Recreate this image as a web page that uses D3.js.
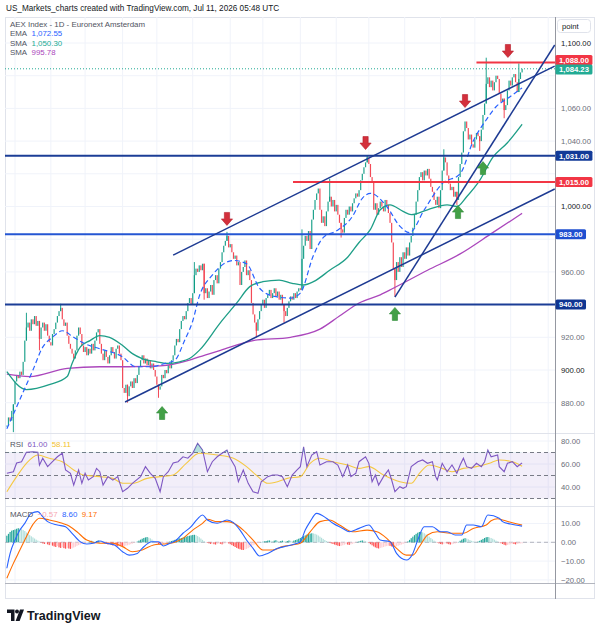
<!DOCTYPE html>
<html>
<head>
<meta charset="utf-8">
<script src="https://d3js.org/d3.v7.min.js"></script>
<style>
  body { margin: 0; background: #fff; }
  svg text { font-family: "Liberation Sans", Arial, sans-serif; }
</style>
</head>
<body>
<svg id="chart" width="600" height="633"></svg>
<script>
// AEX Index daily closes, one per trading day from 24 Apr 2025 to 10 Jul 2026
var closes = [
  866, 871, 869, 875, 879, 893, 897, 895, 899, 897,
  905, 918, 926, 929, 924, 931, 928, 933, 927, 930,
  919, 926, 929, 924, 928, 921, 917, 915, 922, 925,
  929, 933, 936, 938, 931, 927, 929, 921, 916, 913,
  910, 907, 912, 921, 926, 922, 915, 911, 914, 909,
  913, 910, 916, 912, 918, 923, 925, 916, 910, 906,
  912, 908, 904, 909, 914, 911, 907, 913, 915, 910,
  906, 889, 886, 891, 884, 890, 893, 889, 895, 892,
  897, 902, 906, 909, 904, 907, 903, 906, 901, 904,
  900, 896, 891, 888, 890, 897, 895, 900, 898, 903,
  901, 906, 909, 915, 919, 917, 925, 930, 933, 931,
  936, 941, 944, 940, 947, 958, 962, 960, 964, 961,
  965, 947, 950, 944, 948, 952, 946, 955, 958, 953,
  962, 966, 972, 976, 979, 982, 975, 977, 972, 968,
  970, 964, 966, 952, 960, 963, 967, 958, 961, 955,
  941, 934, 929, 924, 931, 936, 940, 943, 938, 944,
  946, 949, 944, 947, 950, 945, 948, 943, 946, 940,
  936, 933, 938, 942, 945, 943, 947, 944, 948, 950,
  949, 968, 976, 982, 979, 985, 974, 992, 998, 1004,
  1008, 1011, 998, 990, 994, 988, 997, 1003, 1006, 1000,
  1004, 997, 1001, 995, 990, 986, 984, 993, 998, 995,
  1000, 997, 1002, 1005, 1008, 1006, 1010, 1016, 1020, 1024,
  1027, 1030, 1026, 1018, 1015, 998, 1002, 995, 999, 1003,
  1000, 997, 1004, 1001, 996, 990, 978, 962, 955, 966,
  960, 969, 963, 972, 968, 975, 970, 978, 982, 987,
  995, 1003, 1010, 1018, 1021, 1016, 1022, 1019, 1023, 1017,
  1012, 1009, 1004, 1001, 1006, 999, 1010, 1022, 1030, 1027,
  1019, 1014, 1010, 1012, 1006, 1009, 1004, 1018, 1026, 1033,
  1046, 1052, 1048, 1041, 1044, 1038, 1036, 1041, 1045, 1043,
  1040, 1047, 1056, 1063, 1075, 1079, 1073, 1077, 1071, 1076,
  1080, 1078, 1069, 1064, 1066, 1059, 1062, 1071, 1077, 1074,
  1079, 1081, 1076, 1070, 1078, 1082, 1084.23
];

// notable wick extremes [bar, value]
var wickHighs = [[12, 935], [33, 940.5], [115, 966], [135, 984.5], [181, 986], [198, 1017], [221, 1031.5], [268, 1035], [294, 1091], [314, 1087.5]];
var wickLows = [[4, 862], [20, 912], [74, 880], [93, 883], [121, 943], [153, 920], [170, 929], [205, 981], [238, 945], [276, 1001], [290, 1034], [305, 1054]];

// moving averages [bar, value]
var ema = [[0, 864], [8, 882], [16, 900], [22, 914], [28, 920], [34, 924], [41, 920], [48, 916], [57, 913], [71, 908], [79, 902], [88, 902], [97, 904], [103, 906], [109, 918], [114, 930], [118, 945], [126, 958], [139, 967], [147, 965], [155, 950], [164, 945], [174, 944], [180, 947], [188, 970], [194, 981], [202, 985], [212, 994], [218, 1005], [223, 1008], [233, 1000], [241, 988], [247, 984], [256, 998], [267, 1014], [278, 1020], [286, 1040], [294, 1053], [300, 1061], [307, 1066], [316, 1072.55]];
var sma50 = [[0, 899], [12, 888], [26, 891], [37, 896], [40, 904], [45, 914], [51, 918], [57, 921], [63, 920], [71, 915], [77, 910], [83, 907], [92, 905], [98, 904], [106, 905], [112, 907], [118, 912], [131, 929], [141, 941], [149, 951], [157, 954], [167, 955], [175, 953], [182, 952], [188, 954], [198, 961], [209, 969], [216, 978], [223, 986], [229, 998], [235, 1001], [243, 997], [248, 995], [258, 998], [270, 1001], [276, 1000], [282, 1006], [290, 1016], [298, 1030], [307, 1039], [316, 1050.3]];
var sma200 = [[0, 897.5], [14, 896], [37, 901], [57, 902], [75, 902], [94, 902.5], [112, 906], [118, 908], [131, 912], [151, 918], [174, 920], [192, 925], [204, 933], [216, 941], [229, 946], [237, 950], [258, 961], [278, 971], [298, 984], [316, 995.78]];

// RSI and its moving average [bar, value]
var rsi = [[0, 51.9], [4, 53.3], [6, 60.9], [9, 62], [12, 70.2], [16, 70.6], [19, 70.2], [20, 59], [22, 65], [25, 57.7], [28, 62], [31, 66.3], [34, 69.3], [36, 54.8], [39, 51.9], [41, 41.7], [44, 54.8], [46, 43.2], [48, 51.9], [50, 46.1], [53, 49], [55, 56.2], [57, 53.3], [59, 41.7], [62, 49], [65, 46], [68, 49], [71, 35.9], [74, 38.9], [77, 43.2], [82, 49], [85, 57.7], [88, 51.9], [91, 47.5], [94, 35.9], [96, 49], [99, 53.3], [102, 60.9], [105, 62], [108, 66.3], [111, 65], [114, 69.3], [117, 78], [120, 72.2], [123, 53.3], [126, 62], [129, 66.3], [132, 69.3], [135, 72.2], [137, 65], [140, 57.7], [142, 44.6], [145, 54.8], [148, 43.2], [151, 35.9], [154, 34.5], [156, 44.6], [160, 49], [163, 50.4], [166, 50.4], [169, 49], [172, 40.3], [175, 50.4], [178, 54.8], [180, 57.7], [182, 75], [184, 57.7], [187, 67.8], [190, 70.7], [192, 59.1], [196, 62], [200, 62], [203, 59.1], [206, 49], [209, 59.1], [211, 49], [214, 51.9], [216, 62], [220, 66.3], [222, 60.6], [224, 44.6], [226, 50.4], [228, 41.7], [231, 49], [234, 54.8], [236, 46.1], [238, 35.9], [241, 40.3], [243, 38.9], [245, 40.3], [248, 57.7], [252, 62], [255, 63.5], [258, 60.6], [261, 62], [263, 49], [264, 46.1], [267, 60.6], [270, 53.3], [273, 59.1], [276, 51.9], [278, 59.1], [280, 65], [282, 57.7], [285, 56.2], [288, 60.6], [291, 57.7], [293, 62], [295, 72.2], [297, 66.3], [301, 67.8], [302, 57.7], [305, 53.3], [307, 60.6], [310, 62], [313, 57.7], [316, 61]];
var rsiMa = [[0, 35.9], [6, 49], [12, 60.6], [19, 67.8], [26, 65], [34, 62], [41, 54.8], [47, 50.4], [57, 49], [65, 47.5], [71, 43.2], [77, 43.2], [86, 47.5], [94, 49], [102, 50.4], [110, 60.6], [118, 69.3], [129, 67.8], [139, 65], [147, 57.7], [154, 49], [160, 43.2], [166, 44.6], [172, 47.5], [180, 49], [186, 60.6], [192, 65], [200, 62], [209, 59.1], [216, 56.2], [222, 57.7], [231, 50.4], [241, 44.6], [248, 43.2], [253, 51.9], [259, 59.1], [267, 56.2], [273, 53.3], [280, 56.2], [288, 57.7], [296, 60.6], [302, 63.5], [310, 62], [316, 58.11]];

// MACD line and signal [bar, value]; histogram one value per bar
var macd = [[0, -13.8], [2, -5.9], [5, 1.2], [8, 6.5], [11, 10.1], [15, 15.4], [19, 16.3], [22, 13.6], [25, 11], [31, 9.2], [36, 8.3], [40, 4.8], [45, 0.3], [49, -0.9], [53, -0.5], [57, 0.7], [61, -0.5], [66, -1.4], [71, -5], [75, -6.8], [80, -5.9], [83, -3.2], [89, 0.3], [93, 0.3], [96, -2], [100, -0.5], [104, 1.2], [108, 4.8], [113, 8.3], [117, 12.5], [120, 14.5], [123, 11.9], [129, 10.1], [135, 11.9], [139, 10.5], [143, 6.5], [147, 1.2], [151, -3.2], [155, -7.3], [160, -5.9], [166, -3.2], [172, -2], [178, -0.5], [180, 0.3], [183, 6.5], [186, 11], [190, 15.4], [196, 12.8], [200, 10.1], [206, 7.4], [210, 5.6], [216, 7.4], [222, 9.2], [226, 4.8], [229, 1.2], [235, 0.3], [239, -5.9], [242, -8.5], [245, -9.4], [249, -5.9], [252, 1.2], [256, 8.3], [261, 8.3], [266, 5.6], [270, 5.6], [275, 3.9], [279, 3.9], [282, 9.2], [286, 9.2], [291, 8.3], [295, 14.5], [302, 12.8], [304, 11], [309, 9.7], [316, 8.6]];
var signal = [[0, -19.1], [4, -11.2], [8, -4.1], [12, 3], [16, 9.5], [20, 12.8], [26, 11.9], [34, 10.1], [37, 9.2], [43, 5.6], [49, 1.2], [57, -0.5], [65, -0.5], [71, -2.3], [77, -5], [83, -4.1], [90, -1.4], [96, -0.9], [102, -0.2], [108, 2.1], [114, 6.5], [120, 10.1], [123, 12.3], [129, 11], [135, 11], [141, 9.2], [145, 6.5], [151, 1.2], [157, -4.1], [163, -4.1], [169, -2.3], [175, -1.4], [180, -0.5], [186, 5.6], [192, 11], [198, 11.9], [204, 9.2], [212, 5.6], [221, 6.5], [227, 5.6], [233, 2.1], [239, -3.2], [245, -6.8], [249, -6.8], [253, -2.3], [258, 3.9], [264, 5.6], [272, 4.8], [280, 4.8], [286, 7.4], [294, 9.2], [297, 11.5], [301, 12.5], [304, 11.9], [310, 10.4], [316, 9.17]];
var hist = [
  3.5, 4.5, 5.5, 6.2, 6.5, 6.8, 7.2, 7.5, 7.4, 7.0,
  6.5, 6.0, 5.2, 4.6, 3.8, 3.2, 2.6, 2.0, 1.4, 0.9,
  0.4, -0.2, -0.6, -0.9, -0.7, -1.1, -1.5, -1.2, -1.8, -2.2,
  -2.5, -2.0, -2.7, -3.0, -2.6, -3.1, -3.4, -3.0, -3.3, -3.5,
  -3.2, -2.8, -2.4, -1.9, -1.5, -1.2, -0.9, -0.6, -0.4, -0.2,
  0.2, 0.5, 0.8, 0.6, 0.3, 0.7, 1.0, 0.6, 0.2, -0.3,
  -0.6, -0.9, -1.2, -1.0, -1.4, -1.7, -1.5, -1.9, -2.1, -1.8,
  -2.0, -2.3, -2.1, -1.8, -1.6, -1.3, -1.0, -0.7, -0.4, -0.1,
  0.4, 0.9, 1.4, 1.9, 2.3, 2.6, 2.8, 2.5, 2.1, 1.5,
  0.8, 0.2, -0.4, -0.9, -1.3, -1.1, -0.8, -0.5, -0.3, 0.1,
  0.4, 0.7, 1.0, 1.3, 1.6, 1.9, 2.1, 2.3, 2.5, 2.8,
  3.0, 3.3, 3.5, 3.7, 3.9, 4.0, 3.8, 3.3, 2.7, 2.0,
  1.3, 0.6, 0.1, -0.3, -0.6, -0.9, -0.7, -1.0, -1.2, -0.9,
  -0.6, -0.8, -1.1, -0.8, -0.5, -0.3, -0.6, -1.0, -1.5, -2.0,
  -2.5, -3.0, -3.4, -3.7, -4.0, -4.1, -3.8, -3.5, -3.1, -2.6,
  -2.1, -1.6, -1.2, -0.8, -0.5, -0.2, 0.1, 0.3, 0.5, 0.7,
  0.9, 1.0, 0.8, 0.6, 0.9, 1.1, 0.8, 0.5, 0.7, 0.9,
  0.6, 0.4, 0.7, 1.0, 0.8, 0.6, 0.9, 1.2, 1.5, 1.9,
  2.3, 2.8, 3.3, 3.7, 4.1, 4.4, 4.6, 4.8, 4.7, 4.5,
  4.1, 3.6, 3.0, 2.4, 1.8, 1.2, 0.7, 0.2, -0.2, -0.6,
  -0.9, -1.2, -1.5, -1.8, -2.0, -1.9, -1.6, -1.3, -1.0, -1.2,
  -1.4, -1.1, -0.8, -0.5, -0.2, 0.2, 0.5, 0.8, 1.0, 0.9,
  0.6, 0.2, -0.4, -1.0, -1.6, -2.2, -2.7, -3.1, -3.3, -3.0,
  -2.8, -2.5, -2.2, -2.0, -1.8, -1.9, -2.2, -2.5, -2.4, -2.1,
  -1.8, -1.5, -1.2, -0.9, -0.5, -0.1, 0.5, 1.3, 2.2, 3.0,
  3.8, 4.5, 5.1, 5.5, 5.6, 5.3, 4.8, 4.2, 3.6, 3.0,
  2.3, 1.6, 0.9, 0.3, -0.2, -0.6, -0.9, -1.1, -0.8, -0.5,
  -0.7, -1.0, -1.2, -1.0, -0.8, -0.6, -0.4, 0.2, 0.8, 1.4,
  1.9, 2.2, 2.0, 1.6, 1.2, 0.8, 0.5, 0.3, 0.1, 0.4,
  0.8, 1.3, 1.8, 2.3, 2.7, 2.8, 2.6, 2.3, 1.9, 1.4,
  0.9, 0.4, -0.1, -0.5, -0.9, -1.3, -1.6, -1.4, -1.2, -1.0,
  -0.8, -0.9, -1.1, -0.9, -0.7, -0.6, -0.57
];

// drawings: horizontal levels, trend lines, arrows
var levels = [
  { value: 1088, from: 288, color: "#f23645", label: "#f23645", shift: -2.6 },
  { value: 1031, from: 0, color: "#1b3d96", label: "#123a98", shift: 0 },
  { value: 1015, from: 175.5, color: "#f23645", label: "#f23645", shift: 0 },
  { value: 983, from: 0, color: "#2456d3", label: "#1f4fd0", shift: 0 },
  { value: 940, from: 0, color: "#1b3d96", label: "#103692", shift: 0 }
];
var trendLines = [
  [[102, 970.3], [336, 1085.9]],
  [[72.5, 880.4], [336, 1010.7]],
  [[238, 944.6], [336, 1098.8]]
];
var arrowsDown = [[135, 992.4], [220, 1038.8], [281, 1064.5], [307.3, 1095.1]];
var arrowsUp = [[95.2, 873.7], [238, 934.3], [276.7, 996.6], [292, 1023.5]];

var priceTicks = d3.range(880, 1101, 20);
var rsiTicks = [40, 60, 80];
var macdTicks = [-20, -10, 0, 10];

// ---- layout ----
var svg = d3.select("#chart");
var plotL = 5, plotR = 555, frameR = 595;
var mainTop = 17, mainBot = 433, rsiTop = 433, rsiBot = 506, macdTop = 506, macdBot = 583, frameBot = 599;
var grid = "#f0f3fa", sep = "#e0e3eb", txt = "#131722", gray = "#6a6d78";

var startDay = new Date(2025, 3, 24), endDay = new Date(2026, 7, 31);
var days = d3.timeDay.range(startDay, endDay).filter(function(d) { return d.getDay() !== 0 && d.getDay() !== 6; });

var x = d3.scaleLinear().domain([0, closes.length - 1]).range([6.85, 522.1]);
var y = d3.scaleLinear().domain([880, 1100]).range([402.7, 43]);
var yr = d3.scaleLinear().domain([40, 80]).range([487, 441]);
var ym = d3.scaleLinear().domain([-20, 10]).range([579.9, 523.5]);

var monthTicks = [];
days.forEach(function(d, i) {
  if (i > 0 && d.getMonth() !== days[i - 1].getMonth()) monthTicks.push({ i: i, d: d });
});

var defs = svg.append("defs");
defs.append("clipPath").attr("id", "clipMain").append("rect")
  .attr("x", plotL).attr("y", mainTop).attr("width", plotR - plotL).attr("height", mainBot - mainTop);
defs.append("clipPath").attr("id", "clipRsi").append("rect")
  .attr("x", plotL).attr("y", rsiTop).attr("width", plotR - plotL).attr("height", rsiBot - rsiTop);
defs.append("clipPath").attr("id", "clipOB").append("rect")
  .attr("x", plotL).attr("y", rsiTop).attr("width", plotR - plotL).attr("height", yr(70) - rsiTop);
defs.append("clipPath").attr("id", "clipMacd").append("rect")
  .attr("x", plotL).attr("y", macdTop).attr("width", plotR - plotL).attr("height", macdBot - macdTop);
defs.append("clipPath").attr("id", "clipTime").append("rect")
  .attr("x", plotL).attr("y", macdBot).attr("width", plotR - plotL).attr("height", frameBot - macdBot);

// header
svg.append("text").attr("x", 6).attr("y", 11).attr("font-size", 8.2).attr("fill", txt)
  .text("US_Markets_charts created with TradingView.com, Jul 11, 2026 05:48 UTC");

// frame
svg.append("rect").attr("x", plotL + 0.5).attr("y", mainTop + 0.5).attr("width", frameR - plotL - 1)
  .attr("height", frameBot - mainTop - 1).attr("fill", "none").attr("stroke", sep);

// grid
var gridG = svg.append("g");
gridG.selectAll(".vg").data(monthTicks).enter().append("line")
  .attr("x1", function(d) { return x(d.i); }).attr("x2", function(d) { return x(d.i); })
  .attr("y1", mainTop).attr("y2", macdBot).attr("stroke", grid);
gridG.selectAll(".hg").data(priceTicks).enter().append("line")
  .attr("x1", plotL).attr("x2", plotR).attr("y1", function(d) { return y(d); }).attr("y2", function(d) { return y(d); })
  .attr("stroke", grid);
gridG.selectAll(".hr").data(rsiTicks).enter().append("line")
  .attr("x1", plotL).attr("x2", plotR).attr("y1", function(d) { return yr(d); }).attr("y2", function(d) { return yr(d); })
  .attr("stroke", grid);
gridG.selectAll(".hm").data(macdTicks).enter().append("line")
  .attr("x1", plotL).attr("x2", plotR).attr("y1", function(d) { return ym(d); }).attr("y2", function(d) { return ym(d); })
  .attr("stroke", grid);

// separators
[rsiTop, macdTop].forEach(function(v) {
  svg.append("line").attr("x1", plotL).attr("x2", frameR).attr("y1", v + 0.5).attr("y2", v + 0.5).attr("stroke", sep);
});
svg.append("line").attr("x1", plotL).attr("x2", frameR).attr("y1", macdBot + 0.5).attr("y2", macdBot + 0.5)
  .attr("stroke", "#b2b5be").attr("stroke-width", 1.2);
svg.append("line").attr("x1", plotR + 0.5).attr("x2", plotR + 0.5).attr("y1", mainTop).attr("y2", frameBot)
  .attr("stroke", "#9598a1").attr("stroke-width", 1);

// ---- main pane ----
var main = svg.append("g").attr("clip-path", "url(#clipMain)");
var upC = "#089981", dnC = "#f23645";

var bars = closes.map(function(c, i) {
  return { i: i, o: i === 0 ? c : closes[i - 1], c: c };
});
wickHighs.forEach(function(w) { bars[w[0]].h = w[1]; });
wickLows.forEach(function(w) { bars[w[0]].l = w[1]; });

main.selectAll(".wick").data(bars.filter(function(b) { return b.h || b.l; })).enter().append("line")
  .attr("x1", function(b) { return x(b.i); }).attr("x2", function(b) { return x(b.i); })
  .attr("y1", function(b) { return y(b.h || Math.max(b.o, b.c)); })
  .attr("y2", function(b) { return y(b.l || Math.min(b.o, b.c)); })
  .attr("stroke", function(b) { return b.c >= b.o ? upC : dnC; }).attr("stroke-width", 0.9);

main.selectAll(".candle").data(bars).enter().append("rect")
  .attr("x", function(b) { return x(b.i) - 0.6; }).attr("width", 1.2)
  .attr("y", function(b) { return y(Math.max(b.o, b.c)); })
  .attr("height", function(b) { return Math.max(1, Math.abs(y(b.o) - y(b.c))); })
  .attr("fill", function(b) { return b.c >= b.o ? upC : dnC; }).attr("opacity", 0.9);

var lineP = d3.line().x(function(d) { return x(d[0]); }).y(function(d) { return y(d[1]); }).curve(d3.curveMonotoneX);
main.append("path").datum(sma200).attr("d", lineP).attr("fill", "none").attr("stroke", "#ab47bc").attr("stroke-width", 1.3);
main.append("path").datum(sma50).attr("d", lineP).attr("fill", "none").attr("stroke", "#1e9e87").attr("stroke-width", 1.3);
main.append("path").datum(ema).attr("d", lineP).attr("fill", "none").attr("stroke", "#2962ff").attr("stroke-width", 1.2)
  .attr("stroke-dasharray", "5,3");

// current price dotted line
main.append("line").attr("x1", plotL).attr("x2", plotR)
  .attr("y1", y(closes[closes.length - 1])).attr("y2", y(closes[closes.length - 1]))
  .attr("stroke", "#22ab94").attr("stroke-dasharray", "1,2").attr("stroke-width", 1);

// levels
main.selectAll(".lvl").data(levels).enter().append("line")
  .attr("x1", function(d) { return d.from ? x(d.from) : plotL; }).attr("x2", plotR)
  .attr("y1", function(d) { return y(d.value); }).attr("y2", function(d) { return y(d.value); })
  .attr("stroke", function(d) { return d.color; }).attr("stroke-width", 2);

// trend lines
main.selectAll(".trend").data(trendLines).enter().append("line")
  .attr("x1", function(d) { return x(d[0][0]); }).attr("y1", function(d) { return y(d[0][1]); })
  .attr("x2", function(d) { return x(d[1][0]); }).attr("y2", function(d) { return y(d[1][1]); })
  .attr("stroke", "#1d3a92").attr("stroke-width", 1.5);

// arrows
var downPath = "M-2.6,-6.5 L2.6,-6.5 L2.6,0 L5.6,0 L0,6.5 L-5.6,0 L-2.6,0 Z";
var upPath = "M-2.6,6.5 L2.6,6.5 L2.6,0 L5.6,0 L0,-6.5 L-5.6,0 L-2.6,0 Z";
main.selectAll(".adn").data(arrowsDown).enter().append("path")
  .attr("d", downPath).attr("transform", function(d) { return "translate(" + x(d[0]) + "," + y(d[1]) + ")"; })
  .attr("fill", "#d3303c").attr("stroke", "#b71c2a").attr("stroke-width", 0.6);
main.selectAll(".aup").data(arrowsUp).enter().append("path")
  .attr("d", upPath).attr("transform", function(d) { return "translate(" + x(d[0]) + "," + y(d[1]) + ")"; })
  .attr("fill", "#43a047").attr("stroke", "#2e8b36").attr("stroke-width", 0.6);

// ---- RSI pane ----
var rsiG = svg.append("g").attr("clip-path", "url(#clipRsi)");
rsiG.append("rect").attr("x", plotL).attr("width", plotR - plotL).attr("y", yr(70)).attr("height", yr(30) - yr(70))
  .attr("fill", "#7e57c2").attr("fill-opacity", 0.1);
[70, 50, 30].forEach(function(v) {
  rsiG.append("line").attr("x1", plotL).attr("x2", plotR).attr("y1", yr(v)).attr("y2", yr(v))
    .attr("stroke", "#787b86").attr("stroke-dasharray", "4,3").attr("stroke-width", 1);
});
var lineR = d3.line().x(function(d) { return x(d[0]); }).y(function(d) { return yr(d[1]); });
var areaOB = d3.area().x(function(d) { return x(d[0]); }).y0(yr(70)).y1(function(d) { return yr(d[1]); });
svg.append("path").datum(rsi).attr("d", areaOB).attr("fill", "#26a69a").attr("fill-opacity", 0.35)
  .attr("clip-path", "url(#clipOB)");
rsiG.append("path").datum(rsiMa).attr("d", lineR.curve(d3.curveMonotoneX)).attr("fill", "none")
  .attr("stroke", "#f5c842").attr("stroke-width", 1.1);
rsiG.append("path").datum(rsi).attr("d", lineR.curve(d3.curveLinear)).attr("fill", "none")
  .attr("stroke", "#7e57c2").attr("stroke-width", 1.1);

// ---- MACD pane ----
var macdG = svg.append("g").attr("clip-path", "url(#clipMacd)");
macdG.append("line").attr("x1", plotL).attr("x2", plotR).attr("y1", ym(0)).attr("y2", ym(0))
  .attr("stroke", "#b2b5be").attr("stroke-dasharray", "4,3");
macdG.selectAll(".hb").data(hist).enter().append("rect")
  .attr("x", function(v, i) { return x(i) - 0.6; }).attr("width", 1.2)
  .attr("y", function(v) { return ym(Math.max(0, v)); })
  .attr("height", function(v) { return Math.abs(ym(v) - ym(0)); })
  .attr("fill", function(v, i) {
    var prev = i > 0 ? hist[i - 1] : v;
    if (v >= 0) return v >= prev ? "#26a69a" : "#b2dfdb";
    return v <= prev ? "#ff5252" : "#ffcdd2";
  });
var lineM = d3.line().x(function(d) { return x(d[0]); }).y(function(d) { return ym(d[1]); }).curve(d3.curveMonotoneX);
macdG.append("path").datum(signal).attr("d", lineM).attr("fill", "none").attr("stroke", "#ff6d00").attr("stroke-width", 1.1);
macdG.append("path").datum(macd).attr("d", lineM).attr("fill", "none").attr("stroke", "#2962ff").attr("stroke-width", 1.1);

// ---- axes ----
var fmt = d3.format(",.2f");
// price ticks hidden behind a level label are not printed
var labelled = levels.map(function(l) { return l.value; }).concat([closes[closes.length - 1]]);
var shownTicks = priceTicks.filter(function(t) {
  return !labelled.some(function(v) { return Math.abs(y(v) - y(t)) < 9; });
});
var pAxis = svg.append("g").attr("transform", "translate(" + plotR + ",0)")
  .call(d3.axisRight(y).tickValues(shownTicks).tickFormat(fmt).tickSize(0).tickPadding(6));
var rAxis = svg.append("g").attr("transform", "translate(" + plotR + ",0)")
  .call(d3.axisRight(yr).tickValues(rsiTicks).tickFormat(fmt).tickSize(0).tickPadding(6));
var mAxis = svg.append("g").attr("transform", "translate(" + plotR + ",0)")
  .call(d3.axisRight(ym).tickValues(macdTicks).tickFormat(fmt).tickSize(0).tickPadding(6));
[pAxis, rAxis, mAxis].forEach(function(g) {
  g.select(".domain").remove();
  g.selectAll("text").attr("font-size", 7.7).attr("fill", gray).attr("font-family", "Liberation Sans, Arial, sans-serif");
});
pAxis.selectAll(".tick text").attr("fill", function(d) { return d % 100 === 0 ? txt : gray; });

var monthFmt = d3.timeFormat("%b");
var tAxis = svg.append("g").attr("transform", "translate(0," + macdBot + ")").attr("clip-path", "url(#clipTime)")
  .call(d3.axisBottom(x).tickValues(monthTicks.map(function(m) { return m.i; }))
    .tickFormat(function(i) { var d = days[i]; return d.getMonth() === 0 ? d.getFullYear() : monthFmt(d); })
    .tickSize(0).tickPadding(5));
tAxis.select(".domain").remove();
tAxis.selectAll("text").attr("font-size", 7.7).attr("fill", gray).attr("font-family", "Liberation Sans, Arial, sans-serif")
  .filter(function(i) { return days[i].getMonth() === 0; }).attr("fill", txt).attr("font-weight", "bold");

// "point" unit box
svg.append("rect").attr("x", 557.5).attr("y", 19.5).attr("width", 33).attr("height", 13).attr("rx", 3)
  .attr("fill", "#fff").attr("stroke", sep);
svg.append("text").attr("x", 562).attr("y", 29).attr("font-size", 7.7).attr("fill", txt).text("point");

// price labels
function priceLabel(v, bg, shift) {
  var yy = y(v) + (shift || 0);
  var t = svg.append("text").attr("x", 559).attr("y", yy + 2.8).attr("font-size", 7.7)
    .attr("font-weight", "bold").attr("fill", "#fff").text(fmt(v));
  var w = t.node().getComputedTextLength();
  svg.insert("rect", function() { return t.node(); })
    .attr("x", 555.5).attr("y", yy - 5).attr("width", w + 7).attr("height", 10).attr("rx", 1.5).attr("fill", bg);
}
levels.forEach(function(l) { priceLabel(l.value, l.label, l.shift); });
priceLabel(closes[closes.length - 1], "#22ab94", 0.6);

// ---- legends ----
function legendRow(yy, parts, size) {
  var t = svg.append("text").attr("x", 10).attr("y", yy).attr("font-size", size || 7.9);
  parts.forEach(function(p, k) {
    t.append("tspan").attr("fill", p[1]).text((k ? "\u00a0\u00a0" : "") + p[0]);
  });
}
legendRow(27, [["AEX Index - 1D - Euronext Amsterdam", "#50535e"]]);
legendRow(36, [["EMA", "#50535e"], ["1,072.55", "#2962ff"]]);
legendRow(45.5, [["SMA", "#50535e"], ["1,050.30", "#22ab94"]]);
legendRow(55, [["SMA", "#50535e"], ["995.78", "#ab47bc"]]);
legendRow(446.5, [["RSI", "#50535e"], ["61.00", "#7e57c2"], ["58.11", "#f2c12e"]]);
legendRow(517, [["MACD", "#50535e"], ["\u22120.57", "#f7a8b2"], ["8.60", "#2962ff"], ["9.17", "#ff6d00"]]);

// ---- footer logo ----
var logo = svg.append("g").attr("fill", txt);
logo.append("path").attr("d", "M7,609.5 H14.5 V621 H11 V613 H7 Z");
logo.append("circle").attr("cx", 17).attr("cy", 611.6).attr("r", 2);
logo.append("path").attr("d", "M20,609.5 H24 L19.6,621 H15.6 Z");
svg.append("text").attr("x", 27).attr("y", 620).attr("font-size", 12.5).attr("font-weight", 600)
  .attr("fill", txt).attr("font-family", "Inter, Liberation Sans, Arial, sans-serif").text("TradingView");
</script>
</body>
</html>
